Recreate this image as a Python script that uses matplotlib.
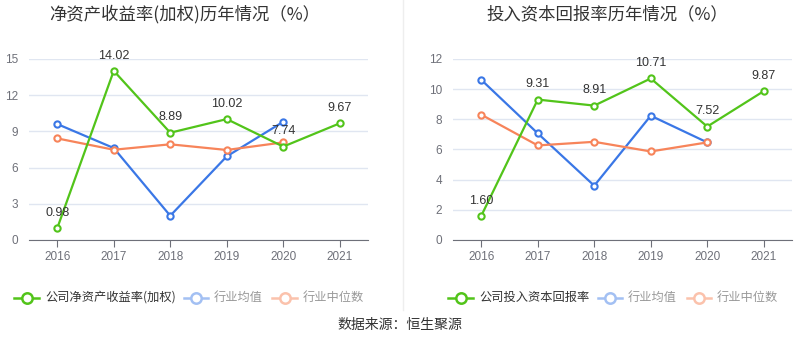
import matplotlib.pyplot as plt
from matplotlib.lines import Line2D

plt.rcParams['font.family'] = ['Liberation Sans', 'Noto Sans CJK SC', 'DejaVu Sans']

years = ['2016', '2017', '2018', '2019', '2020', '2021']

# 净资产收益率(加权)
roe_company = [0.98, 14.02, 8.89, 10.02, 7.74, 9.67]
roe_ind_mean = [9.61, 7.62, 2.01, 6.93, 9.80]
roe_ind_median = [8.42, 7.48, 7.93, 7.46, 8.09]

# 投入资本回报率
roic_company = [1.60, 9.31, 8.91, 10.71, 7.52, 9.87]
roic_ind_mean = [10.62, 7.07, 3.60, 8.24, 6.47]
roic_ind_median = [8.31, 6.27, 6.51, 5.87, 6.47]

green = '#52C41A'
blue = '#3A77E6'
orange = '#F7845A'
W, H = 800, 358

fig = plt.figure(figsize=(8, 3.58), dpi=100)


def px_axes(x0, y0, x1, y1):
    return fig.add_axes([x0 / W, 1 - y1 / H, (x1 - x0) / W, (y1 - y0) / H])


def draw_panel(ax, comp, mean, median, ymax, step, title, tx):
    x = list(range(len(years)))
    kw = dict(marker='o', markersize=4.5, markerfacecolor='white', markeredgewidth=1.5, lw=1.6)
    ax.plot(x[:len(mean)], mean, color=blue, zorder=3, **kw)
    ax.plot(x[:len(median)], median, color=orange, zorder=3, **kw)
    ax.plot(x, comp, color=green, zorder=4, **kw)
    for i, v in enumerate(comp):
        ax.annotate(f'{v:.2f}', (i, v), xytext=(0, 11), textcoords='offset points',
                    ha='center', va='center', fontsize=9, color='#333333', zorder=5)
    ax.set_xlim(-0.5, len(years) - 0.5)
    ax.set_ylim(0, ymax)
    ax.set_yticks(range(0, ymax + 1, step))
    ax.set_xticks(x)
    ax.set_xticklabels(years)
    ax.grid(axis='y', color='#E0E6F1', lw=1)
    ax.set_axisbelow(True)
    for s in ['top', 'right', 'left']:
        ax.spines[s].set_visible(False)
    ax.spines['bottom'].set_color('#6E7079')
    ax.tick_params(axis='y', length=0, labelsize=8.5, labelcolor='#6E7079', pad=8)
    ax.tick_params(axis='x', length=5, color='#6E7079', labelsize=8.5, labelcolor='#6E7079', pad=3)
    fig.text(tx / W, 1 - 14 / H, title, ha='center', va='center', fontsize=12.5,
             color='#333333', family=['Noto Sans CJK SC', 'DejaVu Sans'])


ax1 = px_axes(29, 59, 368, 240)
draw_panel(ax1, roe_company, roe_ind_mean, roe_ind_median, 15, 3,
           '净资产收益率(加权)历年情况（%）', 185)
ax2 = px_axes(453, 59, 792, 240)
draw_panel(ax2, roic_company, roic_ind_mean, roic_ind_median, 12, 2,
           '投入资本回报率历年情况（%）', 607)


def legend_item(x0, x1, y, color, text, tcolor):
    fx = [x0 / W, x1 / W]
    fy = [1 - y / H] * 2
    fig.add_artist(Line2D(fx, fy, color=color, lw=1.8))
    fig.add_artist(Line2D([(x0 + x1) / 2 / W], [1 - y / H], marker='o', markersize=7.5,
                          markerfacecolor='white', markeredgecolor=color, markeredgewidth=1.8))
    fig.text((x1 + 6) / W, 1 - y / H, text, ha='left', va='center', fontsize=8.8,
             color=tcolor, family=['Noto Sans CJK SC', 'DejaVu Sans'])


ly = 297.5
legend_item(14, 39, ly, green, '公司净资产收益率(加权)', '#333333')
legend_item(184, 208, ly, '#A3C0F3', '行业均值', '#999999')
legend_item(272, 297, ly, '#FBC2AC', '行业中位数', '#999999')
legend_item(448, 473, ly, green, '公司投入资本回报率', '#333333')
legend_item(598, 622, ly, '#A3C0F3', '行业均值', '#999999')
legend_item(687, 711, ly, '#FBC2AC', '行业中位数', '#999999')

fig.add_artist(Line2D([403 / W, 403 / W], [1 - 310 / H, 1], color='#EEEEEE', lw=1))

fig.text(0.5, 1 - 325 / H, '数据来源：恒生聚源', ha='center', va='center', fontsize=10,
         color='#333333', family=['Noto Sans CJK SC', 'DejaVu Sans'])

fig.savefig('out.png', dpi=100)
